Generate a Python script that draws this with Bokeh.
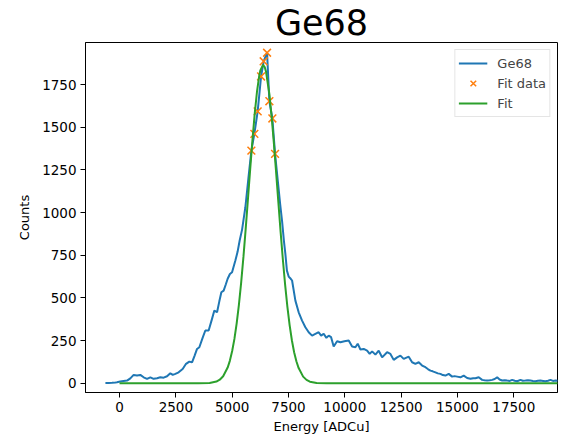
from bokeh.plotting import figure
from bokeh.models import FixedTicker, Legend, LegendItem
from bokeh.embed import file_html
from bokeh.resources import INLINE

# ---- data ----
hist_x = [-626, -480, -330, -180, -111, 30, 180, 333, 480, 626, 777, 923, 1070, 1221, 1368,
          1514, 1665, 1812, 1958, 2109, 2255, 2362, 2478, 2624, 2802, 2953, 3099, 3219, 3334,
          3441, 3543, 3700, 3809, 3956, 4090, 4209, 4329, 4430, 4520, 4622, 4720, 4800, 4900,
          4995, 5142, 5240, 5333, 5440, 5586, 5720, 5852, 5985, 6132, 6283, 6398, 6549, 6651,
          6784, 6904, 7030, 7130, 7215, 7300, 7361, 7430, 7508, 7600, 7659, 7806, 7952, 8103,
          8249, 8396, 8547, 8693, 8840, 8947, 9062, 9182, 9284, 9391, 9506, 9657, 9804, 9981,
          10173, 10323, 10470, 10572, 10692, 10838, 10989, 11104, 11211, 11358, 11504, 11655,
          11877, 12024, 12170, 12321, 12467, 12614, 12836, 12987, 13133, 13280, 13431, 13578,
          13700, 13800, 13900, 14022, 14130, 14244, 14350, 14466, 14612, 14763, 14870, 14985,
          15132, 15278, 15429, 15575, 15700, 15798, 15944, 16095, 16200, 16317, 16430, 16539,
          16650, 16762, 16870, 16983, 17100, 17206, 17320, 17428, 17540, 17650, 17796, 17900,
          18018, 18130, 18240, 18350, 18462, 18570, 18684, 18800, 18906, 19020, 19128, 19240,
          19350, 19460, 19570]
hist_y = [2, 2, 3, 5, 6, 10, 13, 16, 29, 49, 45, 49, 35, 26, 35,
          26, 29, 35, 33, 41, 59, 49, 55, 64, 84, 114, 127, 123, 162,
          201, 211, 270, 309, 309, 370, 426, 416, 480, 533, 543, 580, 612, 640,
          650, 719, 770, 836, 900, 1031, 1200, 1363, 1461, 1593, 1797, 1886, 1936, 1652,
          1551, 1344, 1180, 1050, 950, 830, 758, 660, 625, 612, 602, 484, 416, 367,
          328, 299, 279, 289, 299, 279, 290, 266, 279, 270, 215, 246, 240, 246,
          250, 215, 211, 232, 198, 201, 191, 172, 187, 168, 191, 152,
          182, 172, 137, 152, 162, 143, 156, 123, 114, 123, 104, 94,
          82, 74, 70, 64, 58, 55, 48, 45, 55, 39, 42, 39,
          35, 45, 31, 26, 30, 29, 35, 20, 18, 16, 18, 20,
          25, 35, 22, 16, 18, 16, 14, 20, 15, 12, 20, 15,
          16, 18, 16, 14, 12, 15, 16, 14, 12, 15, 20, 14,
          16, 15, 14]

fitdata_x = [5852, 5985, 6132, 6283, 6398, 6549, 6651, 6784, 6904]
fitdata_y = [1363, 1461, 1593, 1797, 1886, 1936, 1652, 1551, 1344]

fit_x = [0, 2000, 3000, 3500, 4000, 4300, 4450, 4600, 4800, 4900, 5000, 5100, 5200, 5300,
         5400, 5500, 5600, 5700, 5800, 5900, 6000, 6100, 6200, 6250, 6370, 6450, 6500, 6650,
         6750, 6850, 6950, 7050, 7150, 7250, 7350, 7450, 7550, 7650, 7750, 7850, 7950, 8150,
         8300, 8450, 8750, 9200, 10000, 20000]
fit_y = [0, 0, 0, 0.1, 2, 10, 21, 41, 92, 133, 189, 260, 351, 461,
         591, 740, 904, 1078, 1254, 1424, 1578, 1706, 1800, 1833, 1865, 1850, 1827, 1695,
         1564, 1408, 1237, 1061, 887, 725, 578, 449, 341, 252, 182, 129, 89, 39,
         20, 9.5, 1.8, 0.1, 0, 0]

x_ticks = [0, 2500, 5000, 7500, 10000, 12500, 15000, 17500]
y_ticks = [0, 250, 500, 750, 1000, 1250, 1500, 1750]
title_text = "Ge68"

BLUE = "#1f77b4"
ORANGE = "#ff7f0e"
GREEN = "#2ca02c"
FONT = "DejaVu Sans"

FW, FH = 472, 350
p = figure(frame_width=FW, frame_height=FH, output_backend="svg", toolbar_location=None,
           x_range=(-1510, 19440), y_range=(-54, 1996),
           min_border_left=85, min_border_right=2, min_border_bottom=38, min_border_top=42)

p.title.text = title_text
p.title.align = "center"
p.title.text_font = "DejaVu Sans"
p.title.text_font_size = "35px"
p.title.text_font_style = "normal"
p.title.text_color = "black"
p.title.standoff = -1
p.title.offset = 0

p.grid.visible = False
p.outline_line_color = "black"
p.outline_line_width = 1
p.outline_line_alpha = 1

for ax in (p.xaxis[0], p.yaxis[0]):
    ax.axis_line_color = "black"
    ax.major_tick_line_color = "black"
    ax.major_tick_out = 5
    ax.major_tick_in = 0
    ax.minor_tick_line_color = None
    ax.major_label_text_font = FONT
    ax.major_label_text_font_size = "13.5px"
    ax.major_label_text_color = "black"
    ax.axis_label_text_font = FONT
    ax.axis_label_text_font_size = "13px"
    ax.axis_label_text_font_style = "normal"
    ax.axis_label_text_color = "black"
    ax.major_label_standoff = 4

p.xaxis.ticker = FixedTicker(ticks=x_ticks)
p.yaxis.ticker = FixedTicker(ticks=y_ticks)
p.xaxis.axis_label = "Energy [ADCu]"
p.yaxis.axis_label = "Counts"
p.xaxis.axis_label_standoff = 4
p.yaxis.axis_label_standoff = 7

r_hist = p.line(hist_x, hist_y, line_color=BLUE, line_width=2)
r_pts = p.scatter(fitdata_x, fitdata_y, marker="x", size=11, line_color=ORANGE, line_width=1.5)
r_fit = p.line(fit_x, fit_y, line_color=GREEN, line_width=2)

legend = Legend(items=[LegendItem(label="Ge68", renderers=[r_hist]),
                       LegendItem(label="Fit data", renderers=[r_pts]),
                       LegendItem(label="Fit", renderers=[r_fit])],
                location="top_right")
legend.label_text_font = FONT
legend.label_text_font_size = "13px"
legend.label_height = 20
legend.glyph_height = 20
legend.glyph_width = 29
legend.label_standoff = 10
legend.spacing = 0
legend.padding = 3
legend.margin = 7
legend.border_line_color = "#cccccc"
legend.border_line_width = 1
legend.background_fill_alpha = 0.8
p.add_layout(legend)

open("out.html", "w").write(file_html(p, INLINE))
